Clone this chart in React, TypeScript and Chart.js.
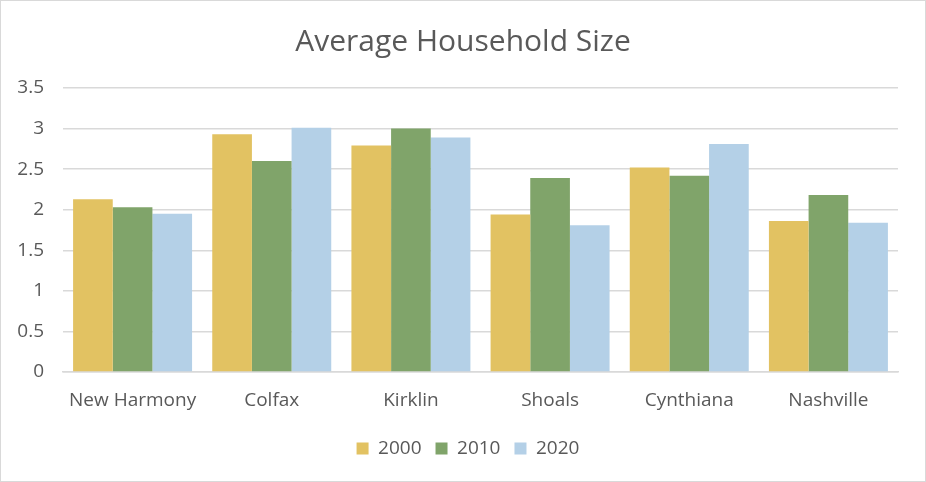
import React, { useEffect, useRef } from "react";
import { Chart, registerables } from "chart.js";

Chart.register(...registerables);

const categories = ["New Harmony", "Colfax", "Kirklin", "Shoals", "Cynthiana", "Nashville"];
const series2000 = [2.13, 2.93, 2.79, 1.94, 2.52, 1.86];
const series2010 = [2.03, 2.6, 3.0, 2.39, 2.42, 2.18];
const series2020 = [1.95, 3.01, 2.89, 1.81, 2.81, 1.84];
const seriesLabels = ["2000", "2010", "2020"];
const titleText = "Average Household Size";

const FONT = "'Open Sans', 'Liberation Sans', sans-serif";
const TEXT = "#595959";

// Re-centre title and legend boxes (Excel centres them over the whole chart)
const recenter = {
  id: "recenter",
  afterLayout(chart: any) {
    const shiftX = (box: any, center: number) => {
      if (!box) return;
      const d = center - (box.left + box.right) / 2;
      box.left += d;
      box.right += d;
    };
    shiftX(chart.titleBlock, 462);
    shiftX(chart.legend, 467);
    if (chart.legend) {
      chart.legend.top -= 4;
      chart.legend.bottom -= 4;
    }
  },
};

export default function App() {
  const ref = useRef<HTMLCanvasElement | null>(null);
  useEffect(() => {
    document.body.style.margin = "0";
    const ctx = ref.current!;
    const chart = new Chart(ctx, {
      type: "bar",
      data: {
        labels: categories,
        datasets: [
          { label: seriesLabels[0], data: series2000, backgroundColor: "#E2C262" },
          { label: seriesLabels[1], data: series2010, backgroundColor: "#80A46A" },
          { label: seriesLabels[2], data: series2020, backgroundColor: "#B4D0E7" },
        ],
      },
      plugins: [recenter],
      options: {
        animation: false,
        events: [],
        responsive: true,
        maintainAspectRatio: false,
        layout: { autoPadding: false, padding: { left: 14, right: 27, top: 8, bottom: 9 } },
        datasets: { bar: { categoryPercentage: 0.855, barPercentage: 1 } },
        plugins: {
          tooltip: { enabled: false },
          title: {
            display: true,
            text: titleText,
            color: TEXT,
            font: { family: FONT, size: 30, weight: "normal" },
            padding: { top: 15, bottom: 28 },
          },
          legend: {
            position: "bottom",
            labels: {
              color: TEXT,
              font: { family: FONT, size: 19 },
              boxWidth: 12,
              boxHeight: 12,
              padding: 14,
            },
          },
        },
        scales: {
          x: {
            grid: { display: false, drawTicks: false },
            border: { display: true, color: "#d9d9d9", width: 1.5 },
            ticks: { color: TEXT, font: { family: FONT, size: 19, lineHeight: 1 }, padding: 19 },
          },
          y: {
            min: 0,
            max: 3.5,
            afterFit: (scale: any) => {
              scale.width = 48;
            },
            grid: { color: "#d9d9d9", lineWidth: 1.5, drawTicks: false },
            border: { display: false },
            ticks: {
              stepSize: 0.5,
              color: TEXT,
              font: { family: FONT, size: 19 },
              padding: 19,
              callback: (v: any) => String(Number(v)),
            },
          },
        },
      },
    });
    return () => chart.destroy();
  }, []);
  return (
    <div
      style={{
        position: "absolute",
        left: 0,
        top: 0,
        width: 926,
        height: 482,
        boxSizing: "border-box",
        border: "1px solid #d9d9d9",
        background: "#fff",
      }}
    >
      <canvas ref={ref} />
    </div>
  );
}
